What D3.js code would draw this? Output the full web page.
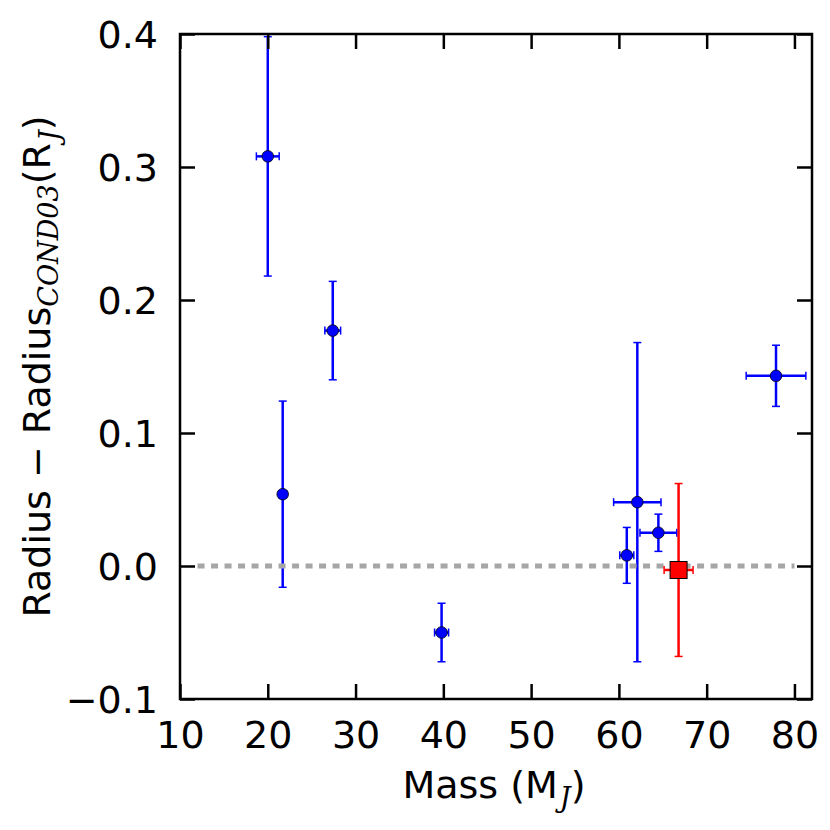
<!DOCTYPE html>
<html>
<head>
<meta charset="utf-8">
<script src="https://cdn.jsdelivr.net/npm/d3@7"></script>
<style>
  html, body { margin: 0; padding: 0; background: #fff; }
  svg { display: block; }
</style>
</head>
<body>
<svg id="chart" width="830" height="830"></svg>
<script>
// ---------- data ----------
const mass      = [20.0, 21.7, 27.4, 39.8, 60.9, 62.1, 64.5, 77.9];
const massErr   = [1.3, 0.45, 0.9, 0.8, 0.8, 2.7, 2.1, 3.4];
const dRadius   = [0.308, 0.054, 0.177, -0.050, 0.008, 0.048, 0.025, 0.143];
const dRadErr   = [0.090, 0.070, 0.037, 0.022, 0.021, 0.120, 0.014, 0.023];

// the red square object
const redMass    = [66.8];
const redMassErr = [1.65];
const redDR      = [-0.003];
const redDRErr   = [0.065];

const xTicks = [10, 20, 30, 40, 50, 60, 70, 80];
const yTicks = [-0.1, 0.0, 0.1, 0.2, 0.3, 0.4];
const zeroLine = [12, 80];

const W = 830, H = 830;
const m = { l: 180, r: 18, t: 34, b: 131 };
const svg = d3.select('#chart');

const x = d3.scaleLinear().domain([10, 82]).range([m.l, W - m.r]);
const y = d3.scaleLinear().domain([-0.1, 0.4]).range([H - m.b, m.t]);

const FONT = '"DejaVu Sans", sans-serif';
const FS = 38;

svg.append('defs').append('clipPath').attr('id', 'plotclip')
  .append('rect').attr('x', m.l).attr('y', m.t)
  .attr('width', W - m.r - m.l).attr('height', H - m.b - m.t);

const plot = svg.append('g').attr('clip-path', 'url(#plotclip)');

// error bars + markers
function errorbars(g, xs, xe, ys, ye, color) {
  const cap = 4;
  xs.forEach((mx, i) => {
    const cx = x(mx), cy = y(ys[i]);
    const y0 = y(ys[i] - ye[i]), y1 = y(ys[i] + ye[i]);
    const x0 = x(mx - xe[i]), x1 = x(mx + xe[i]);
    g.append('line').attr('x1', cx).attr('x2', cx).attr('y1', y0).attr('y2', y1)
      .attr('stroke', color).attr('stroke-width', 2.5);
    g.append('line').attr('x1', x0).attr('x2', x1).attr('y1', cy).attr('y2', cy)
      .attr('stroke', color).attr('stroke-width', 2.5);
    [y0, y1].forEach(yy => g.append('line').attr('x1', cx - cap).attr('x2', cx + cap)
      .attr('y1', yy).attr('y2', yy).attr('stroke', color).attr('stroke-width', 1.5));
    [x0, x1].forEach(xx => g.append('line').attr('x1', xx).attr('x2', xx)
      .attr('y1', cy - cap).attr('y2', cy + cap).attr('stroke', color).attr('stroke-width', 1.5));
  });
}

errorbars(plot, mass, massErr, dRadius, dRadErr, '#0000ff');
plot.selectAll('circle.pt').data(mass).join('circle').attr('class', 'pt')
  .attr('cx', d => x(d)).attr('cy', (d, i) => y(dRadius[i])).attr('r', 5.8)
  .attr('fill', '#0000ff').attr('stroke', '#000').attr('stroke-width', 0.8);

// zero reference line
plot.append('line').attr('x1', x(zeroLine[0])).attr('x2', x(zeroLine[1]))
  .attr('y1', y(0)).attr('y2', y(0))
  .attr('stroke', '#a6a6a6').attr('stroke-width', 5).attr('stroke-dasharray', '7 6.5');

errorbars(plot, redMass, redMassErr, redDR, redDRErr, '#ff0000');
const sq = 17;
plot.selectAll('rect.red').data(redMass).join('rect').attr('class', 'red')
  .attr('x', d => x(d) - sq / 2).attr('y', (d, i) => y(redDR[i]) - sq / 2)
  .attr('width', sq).attr('height', sq)
  .attr('fill', '#ff0000').attr('stroke', '#000').attr('stroke-width', 1);

// ---------- axes (ticks inside on all four sides) ----------
const tickLen = 15;
const axB = svg.append('g').attr('transform', `translate(0,${H - m.b})`)
  .call(d3.axisBottom(x).tickValues(xTicks).tickSizeInner(-tickLen).tickSizeOuter(0).tickPadding(22));
const axT = svg.append('g').attr('transform', `translate(0,${m.t})`)
  .call(d3.axisTop(x).tickValues(xTicks).tickSizeInner(-tickLen).tickSizeOuter(0).tickFormat(''));
const axL = svg.append('g').attr('transform', `translate(${m.l},0)`)
  .call(d3.axisLeft(y).tickValues(yTicks).tickSizeInner(-tickLen).tickSizeOuter(0).tickPadding(22)
    .tickFormat(d => d3.format('.1f')(d).replace('-', '\u2212')));
const axR = svg.append('g').attr('transform', `translate(${W - m.r},0)`)
  .call(d3.axisRight(y).tickValues(yTicks).tickSizeInner(-tickLen).tickSizeOuter(0).tickFormat(''));

[axB, axT, axL, axR].forEach(a => {
  a.select('.domain').remove();
  a.selectAll('.tick line').attr('stroke', '#000').attr('stroke-width', 2.5);
  a.selectAll('.tick text').attr('font-family', FONT).attr('font-size', FS).attr('fill', '#000');
});
axL.selectAll('.tick text').attr('dy', '0.36em');

// frame
svg.append('rect').attr('x', m.l).attr('y', m.t)
  .attr('width', W - m.r - m.l).attr('height', H - m.b - m.t)
  .attr('fill', 'none').attr('stroke', '#000').attr('stroke-width', 2.5);

// ---------- axis labels ----------
const xl = svg.append('text').attr('x', (m.l + W - m.r) / 2 - 2).attr('y', 798)
  .attr('text-anchor', 'middle').attr('font-family', FONT).attr('font-size', FS);
xl.append('tspan').text('Mass (M');
xl.append('tspan').attr('font-family', '"DejaVu Serif", serif').attr('font-style', 'italic')
  .attr('font-size', 27).attr('dx', 2).attr('dy', 9).text('J');
xl.append('tspan').attr('dy', -9).text(')');

const yl = svg.append('text')
  .attr('transform', `translate(50,${(m.t + H - m.b) / 2}) rotate(-90)`)
  .attr('text-anchor', 'middle').attr('font-family', FONT).attr('font-size', FS);
yl.append('tspan').text('Radius \u2212 Radius');
yl.append('tspan').attr('font-family', '"DejaVu Serif", serif').attr('font-style', 'italic')
  .attr('font-size', 27).attr('dy', 8).text('COND03');
yl.append('tspan').attr('dy', -8).text('(R');
yl.append('tspan').attr('font-family', '"DejaVu Serif", serif').attr('font-style', 'italic')
  .attr('font-size', 27).attr('dx', 2).attr('dy', 9).text('J');
yl.append('tspan').attr('dy', -9).text(')');
</script>
</body>
</html>
